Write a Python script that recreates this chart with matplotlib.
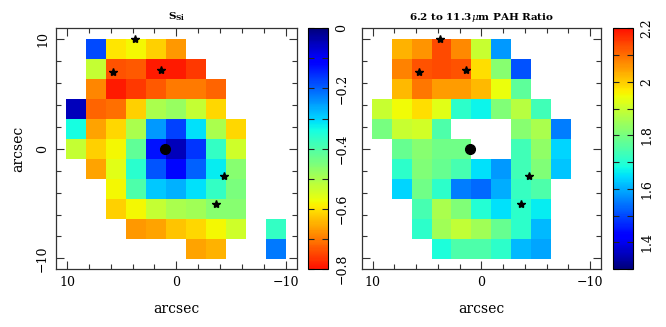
import numpy as np
import matplotlib
matplotlib.use("Agg")
import matplotlib.pyplot as plt
from matplotlib.colors import ListedColormap
from matplotlib.ticker import MultipleLocator, FixedLocator

plt.rcParams['font.family'] = ['DejaVu Serif']
plt.rcParams['mathtext.fontset'] = 'dejavuserif'

N = None
# pixel grid (rows top->bottom, columns left->right on the sky plot)
pix = 1.83
col_x = [(5 - k) * pix for k in range(11)]
row_y = [(5 - r) * pix for r in range(11)]

ssi_grid = [
    [N, -0.18, -0.60, -0.58, -0.62, -0.67, N, N, N, N, N],
    [N, -0.53, -0.74, -0.73, -0.79, -0.79, -0.76, N, N, N, N],
    [N, -0.69, -0.79, -0.76, -0.73, -0.70, -0.70, -0.72, N, N, N],
    [-0.05, -0.72, -0.71, -0.62, -0.50, -0.48, -0.53, -0.61, N, N, N],
    [-0.34, -0.66, -0.61, -0.50, -0.25, -0.17, -0.31, -0.50, -0.61, N, N],
    [-0.53, -0.62, -0.58, -0.42, -0.13, -0.05, -0.16, -0.37, -0.54, N, N],
    [N, -0.66, -0.56, -0.36, -0.19, -0.12, -0.20, -0.32, -0.46, N, N],
    [N, N, -0.58, -0.40, -0.29, -0.27, -0.31, -0.37, -0.45, N, N],
    [N, N, -0.62, -0.58, -0.53, -0.50, -0.49, -0.46, -0.46, N, N],
    [N, N, N, -0.67, -0.66, -0.63, -0.61, -0.58, -0.54, N, -0.37],
    [N, N, N, N, N, N, -0.66, -0.65, N, N, -0.22],
]

pah_grid = [
    [N, 2.03, 2.06, 2.14, 2.07, 1.90, 1.58, N, N, N, N],
    [N, 2.08, 2.13, 2.14, 2.13, 1.98, 1.82, 1.51, N, N, N],
    [N, 2.02, 2.09, 2.05, 2.05, 2.02, 1.94, 1.77, N, N, N],
    [1.90, 1.95, 1.98, 1.93, 1.71, 1.67, 1.81, 1.88, 1.73, N, N],
    [1.80, 1.90, 1.91, 1.75, N, N, N, 1.82, 1.86, 1.55, N],
    [N, 1.78, 1.82, 1.79, 1.79, N, N, 1.73, 1.83, 1.64, N],
    [N, 1.71, 1.81, 1.78, 1.74, 1.65, 1.58, 1.73, 1.81, 1.62, N],
    [N, 1.64, 1.79, 1.71, 1.55, 1.53, 1.60, 1.72, 1.75, N, N],
    [N, N, 1.74, 1.86, 1.81, 1.70, 1.65, 1.71, 1.66, N, N],
    [N, N, 1.71, 1.85, 1.89, 1.85, 1.78, 1.71, 1.61, N, N],
    [N, N, N, 1.69, 1.75, 1.75, 1.71, 1.61, 1.59, N, N],
]

nucleus_x = [1.0]
nucleus_y = [0.0]
star_x = [3.8, 5.75, 1.4, -4.35, -3.65]
star_y = [10.0, 7.0, 7.2, -2.5, -5.05]

axis_ticks = [10, 0, -10]
axis_ticklabels = ['10', '0', '\u221210']
ssi_cticks = [0, -0.2, -0.4, -0.6, -0.8]
ssi_clabels = ['0', '\u22120.2', '\u22120.4', '\u22120.6', '\u22120.8']
pah_cticks = [2.2, 2.0, 1.8, 1.6, 1.4]
pah_clabels = ['2.2', '2', '1.8', '1.6', '1.4']

titles = [r'S$_{\mathbf{Si}}$', r'6.2 to 11.3$\mu$m PAH Ratio']

base = plt.cm.jet(np.linspace(0.0, 0.89, 256))
cmap = ListedColormap(base)
cmap_r = ListedColormap(base[::-1])

W, H = 666, 327
fig = plt.figure(figsize=(W / 100, H / 100), dpi=100)

def frac(x0, x1, ytop, ybot):
    return [x0 / W, 1 - ybot / H, (x1 - x0) / W, (ybot - ytop) / H]

ax1 = fig.add_axes(frac(56, 296.7, 28.3, 269.3))
cax1 = fig.add_axes(frac(308, 328.3, 28.3, 269.0))
ax2 = fig.add_axes(frac(361.7, 601, 28.3, 269.3))
cax2 = fig.add_axes(frac(612.7, 633.3, 28.3, 269.0))

def edges(c):
    c = np.asarray(c, float)
    d = c[1] - c[0]
    return np.concatenate([c - d / 2, [c[-1] + d / 2]])

xe = edges(col_x)
ye = edges(row_y)

def to_arr(g):
    a = np.array([[np.nan if v is None else v for v in row] for row in g], float)
    return np.ma.masked_invalid(a)

m1 = ax1.pcolormesh(xe, ye, to_arr(ssi_grid), cmap=cmap_r, vmin=-0.8, vmax=0.0)
m2 = ax2.pcolormesh(xe, ye, to_arr(pah_grid), cmap=cmap, vmin=1.3, vmax=2.2)

for i, ax in enumerate([ax1, ax2]):
    ax.plot(nucleus_x, nucleus_y, 'o', color='black', markersize=7, zorder=5)
    ax.plot(star_x, star_y, '*', color='black', markersize=6, zorder=5)
    ax.set_xlim(11, -11)
    ax.set_ylim(-11, 11)
    ax.xaxis.set_major_locator(FixedLocator(axis_ticks))
    ax.yaxis.set_major_locator(FixedLocator(axis_ticks))
    ax.xaxis.set_minor_locator(MultipleLocator(2))
    ax.yaxis.set_minor_locator(MultipleLocator(2))
    ax.tick_params(which='both', direction='in', top=True, right=True,
                   bottom=True, left=True, width=0.8, color='#333333')
    ax.tick_params(which='major', length=6, labelsize=9, pad=5)
    ax.tick_params(which='minor', length=3.5)
    ax.set_xticklabels(axis_ticklabels)
    for s in ax.spines.values():
        s.set_linewidth(0.9)
        s.set_color('#333333')
    ax.set_xlabel('arcsec', fontsize=10, labelpad=9)
    ax.set_title(titles[i], fontsize=7.5, fontweight='bold', pad=6)

ax1.set_yticklabels(axis_ticklabels, rotation=90, va='center')
ax1.set_ylabel('arcsec', fontsize=10, labelpad=8)
ax2.set_yticklabels([])

for cax, m, ticks, labels, step in [(cax1, m1, ssi_cticks, ssi_clabels, 0.1),
                                    (cax2, m2, pah_cticks, pah_clabels, 0.1)]:
    cb = fig.colorbar(m, cax=cax)
    cb.outline.set_linewidth(0.8)
    cb.set_ticks(ticks)
    cb.set_ticklabels(labels)
    cax.yaxis.set_minor_locator(MultipleLocator(step))
    cax.tick_params(which='both', direction='in', left=True, right=True,
                    length=4, width=0.8, color='#222222')
    cax.tick_params(which='major', labelsize=9, pad=5)
    for t in cax.get_yticklabels():
        t.set_rotation(90)
        t.set_va('center')

fig.savefig('out.png', dpi=100)
